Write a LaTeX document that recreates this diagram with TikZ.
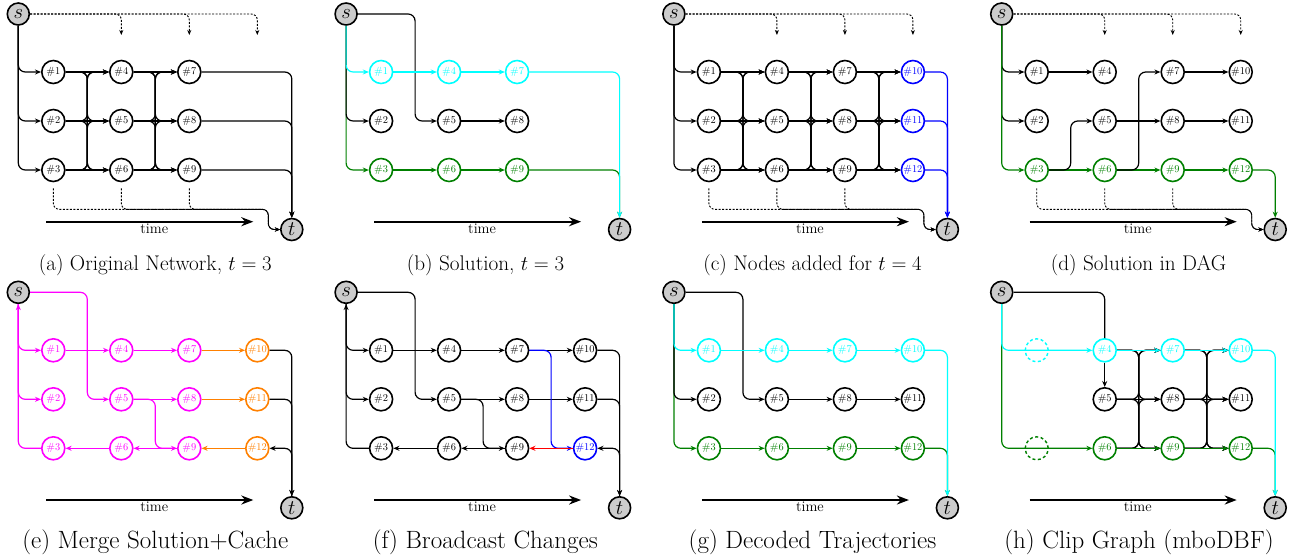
\documentclass[tikz,border=0pt]{standalone}
\usepackage{fontspec}
\usetikzlibrary{arrows.meta,calc}
\definecolor{dgreen}{rgb}{0,0.5,0}
\definecolor{pcyan}{rgb}{0,1,1}
\definecolor{pmag}{rgb}{1,0,1}
\definecolor{porange}{rgb}{1,0.5,0}

\tikzset{
  gn/.style={circle,draw,line width=1.6pt,minimum size=23pt,inner sep=0pt,
    font=\fontsize{10.4}{11}\selectfont},
  term/.style={circle,draw,fill=black!20,line width=1.6pt,minimum size=22pt,inner sep=0pt,
    font=\fontsize{20.74}{22}\selectfont},
  ghost/.style={circle,draw,dash pattern=on 3pt off 2.5pt,line width=1.4pt,minimum size=23pt,inner sep=0pt},
  ed/.style={line width=1.2pt,rounded corners=7pt,-{Stealth[length=6pt,width=5pt]}},
  ln/.style={line width=1.2pt,rounded corners=7pt},
  dots/.style={line width=0.9pt,dash pattern=on 2pt off 1.5pt,rounded corners=6pt,
    -{Stealth[length=5pt,width=4pt]}},
  hv/.style={to path={-| ($(\tikztostart)!.5!(\tikztotarget.west)$) |- (\tikztotarget.west)}},
  timearrow/.style={line width=2.4pt,-{Stealth[length=12pt,width=9pt]}},
  timelbl/.style={font=\fontsize{14.6}{16}\selectfont,anchor=base,inner sep=0pt},
  captop/.style={font=\fontsize{21.2}{26}\selectfont,anchor=base,inner sep=0pt},
  capbot/.style={font=\fontsize{25}{30}\selectfont,anchor=base,inner sep=0pt}
}

% grid of numbered nodes: column = (i-1) div 3, row = (i-1) mod 3
\newcommand\gridnodes[2]{%
  \foreach \i/\cl in {#2}{%
    \pgfmathtruncatemacro\cc{div(\i-1,3)}%
    \pgfmathtruncatemacro\rr{mod(\i-1,3)}%
    \node[gn,draw=\cl,text=\cl] (#1\i) at ({35+68*\cc},{58+49*\rr}) {\#\i};}}

% source, sink and time axis of one panel
\newcommand\panelbase[1]{%
  \node[term] (#1s) at (0,0) {$s$};
  \node[term] (#1t) at (273.5,215.5) {$t$};
  \coordinate (#1ta) at (28,207.7);
  \coordinate (#1tb) at (235,207.7);
  \draw[timearrow] (#1ta) -- (#1tb);
  \node[timelbl] (#1time) at (136,219.3) {time};}

% all edges from one column to the next
\newcommand\bip[2]{%
  \foreach \u in {0,1,2}{\foreach \v in {0,1,2}{%
    \pgfmathtruncatemacro\ua{#2+\u}%
    \pgfmathtruncatemacro\vb{#2+3+\v}%
    \ifnum\u=\v\relax \draw[ed] (#1\ua) -- (#1\vb);%
    \else \draw[ed] (#1\ua.east) to[hv] (#1\vb);\fi}}}

% late entries from the source
\newcommand\topdots[1]{%
  \foreach \x in {103,171,239}{%
    \coordinate (#1in\x) at (\x,21);
    \draw[dots] (#1s) -| (#1in\x);}}

% early exits to the sink
\newcommand\botdots[1]{%
  \foreach \k in {3,6,9}{%
    \draw[dots] ([yshift=-6pt]#1\k.south) |- (250,195.3) |- (#1t);}}

\begin{document}
\begin{tikzpicture}[x=1pt,y=-1pt]
\useasboundingbox (0,0) rectangle (1292,558);

% (a) original network
\begin{scope}[shift={(18.3,14)}]
  \panelbase{a}
  \gridnodes{a}{1/black,2/black,3/black,4/black,5/black,6/black,7/black,8/black,9/black}
  \foreach \k in {1,2,3} \draw[ed] (as) |- (a\k);
  \bip{a}{1}\bip{a}{4}
  \foreach \k in {7,8,9} \draw[ed] (a\k) -| (at);
  \topdots{a}\botdots{a}
\end{scope}
\node[captop] (capa) at (155.3,270.3) {(a) Original Network, $t=3$};

% (b) solution
\begin{scope}[shift={(346.1,14)}]
  \panelbase{b}
  \gridnodes{b}{1/pcyan,2/black,3/dgreen,4/pcyan,5/black,6/dgreen,7/pcyan,8/black,9/dgreen}
  \draw[ed,dgreen] (bs) |- (b3);
  \draw[ed,dgreen] (b3) -- (b6);
  \draw[ed,dgreen] (b6) -- (b9);
  \draw[ed,dgreen] (b9) -| (bt);
  \draw[ed] (bs) |- (b2);
  \draw[ed] (bs) -| ($(b2)!.5!(b5)$) -- (b5);
  \draw[ed] (b5) -- (b8);
  \draw[ed,pcyan] (bs) |- (b1);
  \draw[ed,pcyan] (b1) -- (b4);
  \draw[ed,pcyan] (b4) -- (b7);
  \draw[ed,pcyan] (b7) -| (bt);
\end{scope}
\node[captop] (capb) at (485.5,270.3) {(b) Solution, $t=3$};

% (c) nodes added for the next step
\begin{scope}[shift={(673.9,14)}]
  \panelbase{c}
  \gridnodes{c}{1/black,2/black,3/black,4/black,5/black,6/black,7/black,8/black,9/black,10/blue,11/blue,12/blue}
  \foreach \k in {1,2,3} \draw[ed] (cs) |- (c\k);
  \bip{c}{1}\bip{c}{4}\bip{c}{7}
  \foreach \k in {10,11,12} \draw[ed,blue] (c\k) -| (ct);
  \topdots{c}\botdots{c}
\end{scope}
\node[captop] (capc) at (812.5,270.3) {(c) Nodes added for $t=4$};

% (d) solution in the DAG
\begin{scope}[shift={(1001.7,14)}]
  \panelbase{d}
  \gridnodes{d}{1/black,2/black,3/dgreen,4/black,5/black,6/dgreen,7/black,8/black,9/dgreen,10/black,11/black,12/dgreen}
  \draw[ed] (ds) |- (d1);
  \draw[ed] (ds) |- (d2);
  \draw[ed,dgreen] (ds) |- (d3);
  \draw[ed,dgreen] (d3) -- (d6);
  \draw[ed,dgreen] (d6) -- (d9);
  \draw[ed,dgreen] (d9) -- (d12);
  \draw[ed,dgreen] (d12) -| (dt);
  \draw[ed] (d1) -- (d4);
  \draw[ed] (d3.east) to[hv] (d5);
  \draw[ed] (d5) -- (d8);
  \draw[ed] (d8) -- (d11);
  \draw[ed] (d6.east) to[hv] (d7);
  \draw[ed] (d7) -- (d10);
  \topdots{d}\botdots{d}
\end{scope}
\node[captop] (capd) at (1138.5,270.3) {(d) Solution in DAG};

% (e) merge of solution and cache
\begin{scope}[shift={(18.3,292.3)}]
  \panelbase{e}
  \gridnodes{e}{1/pmag,2/pmag,3/pmag,4/pmag,5/pmag,6/pmag,7/pmag,8/pmag,9/pmag,10/porange,11/porange,12/porange}
  \begin{scope}[pmag]
    \draw[ed] (es) |- (e1);
    \draw[ed] (es) |- (e2);
    \draw[ed] (e3) -| (es);
    \draw[ed] (es) -| ($(e2)!.5!(e5)$) -- (e5);
    \draw[ed] (e1) -- (e4);
    \draw[ed] (e4) -- (e7);
    \draw[ed] (e5) -- (e8);
    \draw[ed] (e5.east) to[hv] (e9);
    \draw[ed] (e9) -- (e6);
    \draw[ed] (e6) -- (e3);
  \end{scope}
  \draw[ed,porange] (e7) -- (e10);
  \draw[ed,porange] (e8) -- (e11);
  \draw[ed,porange] (e12) -- (e9);
  \draw[ed] (e10) -| (et);
  \draw[ed] (e11) -| (et);
  \draw[ed] (et) |- (e12);
\end{scope}
\node[capbot] (cape) at (155.3,548.2) {(e) Merge Solution+Cache};

% (f) broadcast of the changes
\begin{scope}[shift={(346.1,292.3)}]
  \panelbase{f}
  \gridnodes{f}{1/black,2/black,3/black,4/black,5/black,6/black,7/black,8/black,9/black,10/black,11/black,12/blue}
  \draw[ed] (fs) |- (f1);
  \draw[ed] (fs) |- (f2);
  \draw[ed] (f3) -| (fs);
  \draw[ed] (fs) -| ($(f2)!.5!(f5)$) -- (f5);
  \draw[ed] (f1) -- (f4);
  \draw[ed] (f4) -- (f7);
  \draw[ed] (f5) -- (f8);
  \draw[ed] (f5.east) to[hv] (f9);
  \draw[ed] (f9) -- (f6);
  \draw[ed] (f6) -- (f3);
  \draw[ed] (f7) -- (f10);
  \draw[ed] (f8) -- (f11);
  \draw[ed,blue] (f7.east) to[hv] (f12);
  \draw[ed,red] (f12) -- (f9);
  \draw[ed] (f10) -| (ft);
  \draw[ed] (f11) -| (ft);
  \draw[ed] (ft) |- (f12);
\end{scope}
\node[capbot] (capf) at (485.3,548.2) {(f) Broadcast Changes};

% (g) decoded trajectories
\begin{scope}[shift={(673.9,292.3)}]
  \panelbase{g}
  \gridnodes{g}{1/pcyan,2/black,3/dgreen,4/pcyan,5/black,6/dgreen,7/pcyan,8/black,9/dgreen,10/pcyan,11/black,12/dgreen}
  \draw[ed,dgreen] (gs) |- (g3);
  \draw[ed,dgreen] (g3) -- (g6);
  \draw[ed,dgreen] (g6) -- (g9);
  \draw[ed,dgreen] (g9) -- (g12);
  \draw[ed,dgreen] (g12) -| (gt);
  \draw[ed] (gs) |- (g2);
  \draw[ed] (gs) -| ($(g2)!.5!(g5)$) -- (g5);
  \draw[ed] (g5) -- (g8);
  \draw[ed] (g8) -- (g11);
  \draw[ed,pcyan] (gs) |- (g1);
  \draw[ed,pcyan] (g1) -- (g4);
  \draw[ed,pcyan] (g4) -- (g7);
  \draw[ed,pcyan] (g7) -- (g10);
  \draw[ed,pcyan] (g10) -| (gt);
\end{scope}
\node[capbot] (capg) at (812.5,548.2) {(g) Decoded Trajectories};

% (h) clipped graph
\begin{scope}[shift={(1001.7,292.3)}]
  \panelbase{h}
  \node[ghost,pcyan] (h1) at (35,58) {};
  \node[ghost,dgreen] (h3) at (35,156) {};
  \gridnodes{h}{4/pcyan,5/black,6/dgreen,7/pcyan,8/black,9/dgreen,10/pcyan,11/black,12/dgreen}
  \draw[ln] (hs) -| (h4);
  \draw[ed] (h4) -- (h5);
  \bip{h}{4}\bip{h}{7}
  \draw[ed,dgreen] (hs) |- (h6);
  \draw[ed,dgreen] (h6) -- (h9);
  \draw[ed,dgreen] (h9) -- (h12);
  \draw[ed,dgreen] (h12) -| (ht);
  \draw[ed,pcyan] (hs) |- (h4);
  \draw[ed,pcyan] (h4) -- (h7);
  \draw[ed,pcyan] (h7) -- (h10);
  \draw[ed,pcyan] (h10) -| (ht);
\end{scope}
\node[capbot] (caph) at (1139,548.2) {(h) Clip Graph (mboDBF)};
\end{tikzpicture}
\end{document}
